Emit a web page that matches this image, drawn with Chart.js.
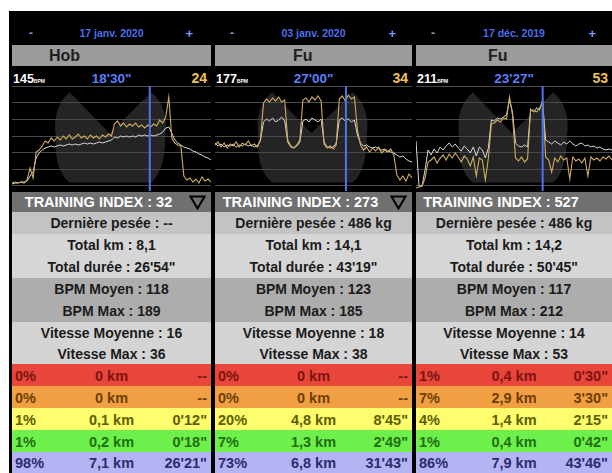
<!DOCTYPE html>
<html><head><meta charset="utf-8">
<script src="https://cdn.jsdelivr.net/npm/chart.js@4/dist/chart.umd.min.js"></script>
<style>
html,body{margin:0;padding:0;background:#fff;}
body{width:612px;height:473px;position:relative;overflow:hidden;font-family:"Liberation Sans",Arial,sans-serif;font-weight:bold;}
#bg{position:absolute;left:9px;top:11px;width:603px;height:462px;background:#000;}
.c{display:flex;align-items:center;justify-content:center;}
canvas{position:absolute;left:0;top:86px;}
</style>
</head><body>
<div id="bg"></div>
<script>
// ---- data ----
const dates = ["17 janv. 2020", "03 janv. 2020", "17 déc. 2019"];
const names = ["Hob", "Fu", "Fu"];
const headBpm = [145, 177, 211];
const headTime = ["18'30\"", "27'00\"", "23'27\""];
const headCount = [24, 34, 53];
const trainingIndex = [32, 273, 527];
const pesee = ["--", "486 kg", "486 kg"];
const totalKm = ["8,1", "14,1", "14,2"];
const totalDuree = ["26'54\"", "43'19\"", "50'45\""];
const bpmMoyen = [118, 123, 117];
const bpmMax = [189, 185, 212];
const vitMoy = [16, 18, 14];
const vitMax = [36, 38, 53];
const zonePct = [["0%","0%","1%","1%","98%"],["0%","0%","20%","7%","73%"],["1%","7%","4%","1%","86%"]];
const zoneKm = [["0 km","0 km","0,1 km","0,2 km","7,1 km"],["0 km","0 km","4,8 km","1,3 km","6,8 km"],["0,4 km","2,9 km","1,4 km","0,4 km","7,9 km"]];
const zoneTime = [["--","--","0'12\"","0'18\"","26'21\""],["--","--","8'45\"","2'49\"","31'43\""],["0'30\"","3'30\"","2'15\"","0'42\"","43'46\""]];

// chart series (white = heart rate trace, yellow = speed trace), arbitrary units 0-105
const white1 = [7,8,8,9,9,10,15,19,33,38,41,43,44,45,44,45,46,45,46,47,46,47,46,47,48,47,48,47,48,49,48,49,50,51,54,53,55,54,55,54,55,54,56,55,56,55,56,55,56,57,59,63,64,58,51,48,46,44,43,42,40,39,37,36,34,33,31];
const yellow1 = [8,9,8,9,8,11,23,13,39,41,45,50,48,53,50,54,51,55,52,56,52,54,57,53,55,52,56,53,55,52,56,54,57,55,67,70,65,68,64,67,65,68,64,66,63,66,64,67,65,71,68,74,94,53,48,46,45,15,11,13,9,12,8,14,10,12,9];
const white2 = [48,45,47,44,46,45,47,44,46,45,47,45,46,44,45,51,69,72,70,73,69,71,74,70,49,44,43,45,49,70,72,69,73,71,69,72,49,44,43,44,48,71,73,70,72,69,71,56,48,45,46,44,43,44,42,41,42,40,39,38,36,34,35,32,30,29];
const yellow2 = [46,49,44,48,43,47,45,49,44,48,46,50,45,47,44,51,88,92,89,93,90,94,89,91,51,45,43,46,51,91,93,89,94,91,95,90,47,43,45,42,46,92,95,90,96,92,94,61,46,41,44,39,43,40,44,38,41,39,42,36,16,11,15,10,17,13];
const white3 = [50,5,5,21,41,36,42,38,44,41,45,48,44,47,43,40,45,42,38,44,35,44,41,33,43,71,70,73,72,74,76,91,79,48,45,44,46,44,80,81,79,83,88,51,49,47,50,48,46,49,47,50,47,45,47,48,45,46,44,45,43,44,42,41,42,41];
const yellow3 = [3,4,5,13,29,31,34,28,33,36,31,37,33,38,34,29,35,32,25,34,15,33,31,11,33,67,68,71,69,73,72,94,76,33,30,34,29,32,82,79,83,81,91,34,31,19,33,29,35,31,33,12,34,30,32,28,33,15,34,31,33,30,34,32,35,31];
const cursorPos = [45.7, 43.2, 42];
const gridTicks = [6, 22, 39, 55, 72, 88, 104];

const whites = [white1, white2, white3];
const yellows = [yellow1, yellow2, yellow3];

// ---- layout ----
const panelGeom = [[12,199],[215,197],[416,196]];
const nameLeft = [37, 78, 72];
const zoneBg = ['#e8463b','#f0a043','#fdfd6e','#6ef04c','#b4b4f4'];
const zoneFg = ['#7d1410','#6e3e00','#5e5e00','#1f6e10','#2c2c6e'];
const grayRows = [
  [212,22,'#c3c3c3', i=>"Dernière pesée : "+pesee[i]],
  [234,22,'#d6d6d6', i=>"Total km : "+totalKm[i]],
  [256,22,'#d6d6d6', i=>"Total durée : "+totalDuree[i]],
  [278,22,'#adadad', i=>"BPM Moyen : "+bpmMoyen[i]],
  [300,22,'#adadad', i=>"BPM Max : "+bpmMax[i]],
  [322,21,'#d4d4d4', i=>"Vitesse Moyenne : "+vitMoy[i]],
  [343,21,'#d4d4d4', i=>"Vitesse Max : "+vitMax[i]]
];
const zoneTop = [364,386,408,430,452];
const zoneH = [22,22,22,22,21];

const watermark = {
  id:'wm',
  beforeDraw(chart){
    const {ctx, chartArea:a} = chart;
    const X = f => a.left + f*(a.right-a.left);
    const Y = f => a.top + f*(a.bottom-a.top);
    ctx.save();
    ctx.fillStyle = '#242424';
    ctx.beginPath();
    ctx.moveTo(X(0.29),Y(0.06));
    ctx.lineTo(X(0.49),Y(0.45));
    ctx.lineTo(X(0.70),Y(0.06));
    ctx.quadraticCurveTo(X(0.79),Y(0.2),X(0.77),Y(0.48));
    ctx.quadraticCurveTo(X(0.77),Y(0.8),X(0.70),Y(0.92));
    ctx.lineTo(X(0.29),Y(0.92));
    ctx.quadraticCurveTo(X(0.21),Y(0.8),X(0.22),Y(0.48));
    ctx.quadraticCurveTo(X(0.20),Y(0.2),X(0.29),Y(0.06));
    ctx.fill();
    ctx.restore();
  }
};

function el(parent, css, html){
  const d = document.createElement('div');
  d.style.cssText = css;
  if (html !== undefined) d.innerHTML = html;
  parent.appendChild(d);
  return d;
}

for (let p=0;p<3;p++){
  const [left,w] = panelGeom[p];
  const P = el(document.body, `position:absolute;left:${left}px;top:0;width:${w}px;height:473px;`);
  // header
  const H = el(P, 'position:absolute;left:0;top:24px;width:100%;height:18px;font-size:10.5px;color:#4c6fe8;', '');
  H.className='c';
  H.style.position='absolute';
  H.innerHTML = `<span style="position:absolute;left:${p==0?17:15}px;color:#8e98c4;font-size:12px">-</span>${dates[p]}<span style="position:absolute;right:${p==0?18:16}px;color:#7a96f7;font-size:13px">+</span>`;
  // name bar
  el(P, 'position:absolute;left:0;top:45px;width:100%;height:21px;background:#9c9c9c;');
  el(P, `position:absolute;left:${nameLeft[p]}px;top:45px;height:21px;line-height:21px;font-size:16px;color:#1e1e1e;`, names[p]);
  // stats
  el(P, 'position:absolute;left:1px;top:72px;font-size:12.5px;color:#fff;line-height:14px;', `${headBpm[p]}<span style="font-size:5px">BPM</span>`);
  el(P, 'position:absolute;left:0;top:71px;width:100%;text-align:center;font-size:13.5px;color:#5b7ff7;line-height:15px;', headTime[p]);
  el(P, 'position:absolute;right:4px;top:71px;font-size:14px;color:#f0c24e;line-height:15px;', String(headCount[p]));
  // chart
  const cv = document.createElement('canvas');
  cv.width = w; cv.height = 105;
  P.appendChild(cv);
  const n = whites[p].length;
  new Chart(cv, {
    type:'line',
    data:{datasets:[
      {data: whites[p].map((v,i)=>({x:i,y:v})), borderColor:'#d9d9d9', borderWidth:1, pointRadius:0, order:2},
      {data: yellows[p].map((v,i)=>({x:i,y:v})), borderColor:'#cfac5e', borderWidth:1.1, pointRadius:0, order:1},
      {data: [{x:cursorPos[p],y:0},{x:cursorPos[p],y:105}], borderColor:'#4f74ee', borderWidth:2, pointRadius:0, order:0}
    ]},
    options:{
      responsive:false, animation:false, devicePixelRatio:1,
      layout:{padding:0},
      plugins:{legend:{display:false}, tooltip:{enabled:false}},
      scales:{
        x:{type:'linear', min:0, max:n-1, display:false},
        y:{min:0, max:105, ticks:{display:false}, grid:{color:'#4a4a4a', drawTicks:false, lineWidth:1}, border:{display:false},
           afterBuildTicks: s => { s.ticks = gridTicks.map(v=>({value:v})); }}
      }
    },
    plugins:[watermark]
  });
  // training index bar
  el(P, 'position:absolute;left:0;top:192px;width:100%;height:20px;background:#707070;');
  el(P, `position:absolute;left:0;top:192px;width:${w-26}px;height:20px;line-height:20px;text-align:center;font-size:14.5px;color:#fff;`, `TRAINING INDEX : ${trainingIndex[p]}`);
  if (p<2){
    el(P, `position:absolute;right:5px;top:195px;width:17px;height:15px;`, '<svg width="17" height="15"><polygon points="1.5,1.5 15.5,1.5 8.5,13.5" fill="none" stroke="#000" stroke-width="2"/></svg>');
  }
  // gray rows
  grayRows.forEach(([top,h,bg,f])=>{
    el(P, `position:absolute;left:0;top:${top}px;width:100%;height:${h}px;line-height:${h+1}px;background:${bg};text-align:center;font-size:14px;color:#1b1b1b;`, f(p));
  });
  // zone rows
  for (let z=0;z<5;z++){
    const R = el(P, `position:absolute;left:0;top:${zoneTop[z]}px;width:100%;height:${zoneH[z]}px;line-height:${zoneH[z]+2}px;background:${zoneBg[z]};color:${zoneFg[z]};font-size:14.5px;text-align:center;`);
    R.innerHTML = `<span style="position:absolute;left:3px">${zonePct[p][z]}</span>${zoneKm[p][z]}<span style="position:absolute;right:4px">${zoneTime[p][z]}</span>`;
  }
}
</script>
</body></html>
